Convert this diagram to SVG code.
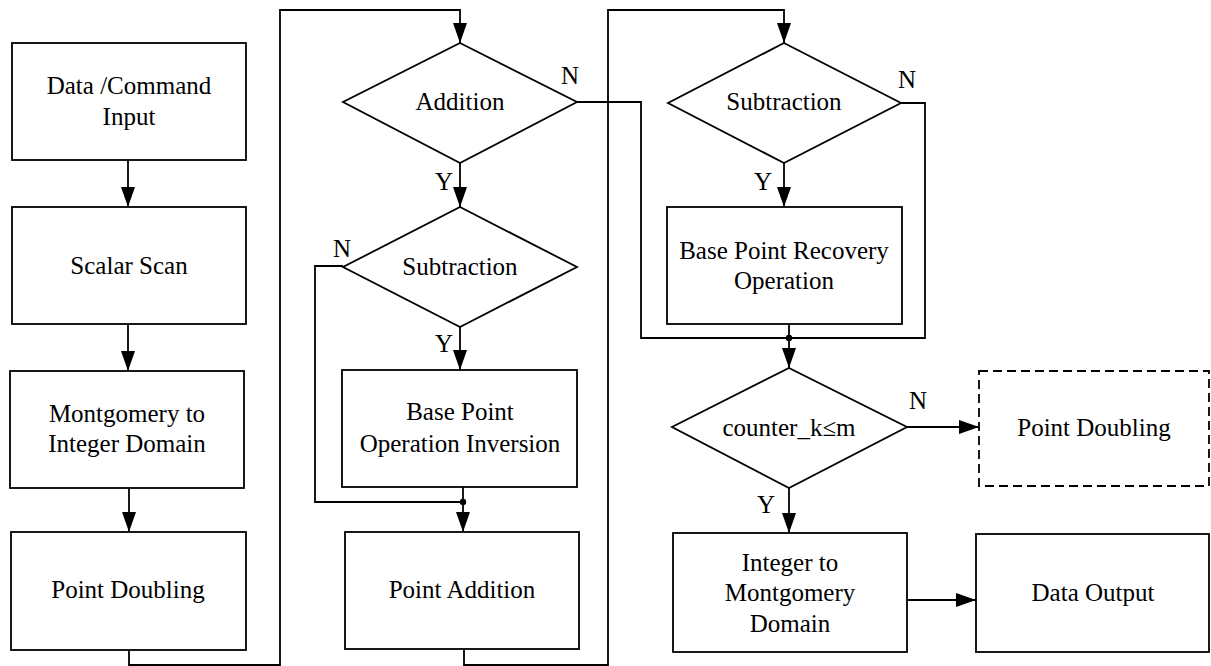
<svg xmlns="http://www.w3.org/2000/svg" width="1211" height="666" viewBox="0 0 1211 666" font-family="'Liberation Serif', 'DejaVu Serif', serif" font-size="25">
  <style>
    .box { fill: #fff; stroke: #000; stroke-width: 1.8; }
    .dash { fill: #fff; stroke: #000; stroke-width: 1.8; stroke-dasharray: 9 5; }
    .wire { fill: none; stroke: #000; stroke-width: 1.8; }
    .arrow { fill: none; stroke: #000; stroke-width: 1.8; marker-end: url(#head); }
    text { font-family: 'Liberation Serif', 'DejaVu Serif', serif; font-size: 25px; fill: #000; }
    .c { text-anchor: middle; }
  </style>
  <defs>
    <marker id="head" viewBox="0 0 20 14" refX="20" refY="7" markerWidth="20" markerHeight="14" markerUnits="userSpaceOnUse" orient="auto">
      <path d="M0,0 L20,7 L0,14 Z" fill="#000"/>
    </marker>
  </defs>

  <!-- connectors -->
  <g id="connectors">
    <line class="arrow" x1="128" y1="160" x2="128" y2="207"/>
    <line class="arrow" x1="128" y1="324" x2="128" y2="371"/>
    <line class="arrow" x1="129" y1="488" x2="129" y2="532"/>
    <polyline class="arrow" points="129,650 129,665 280,665 280,10 460,10 460,43"/>
    <line class="arrow" x1="460" y1="163" x2="460" y2="207"/>
    <line class="arrow" x1="460" y1="327" x2="460" y2="370"/>
    <polyline class="wire" points="343,266 315,266 315,502 463,502"/>
    <line class="wire" x1="463" y1="487" x2="463" y2="502"/>
    <line class="arrow" x1="463" y1="502" x2="463" y2="532"/>
    <circle cx="463" cy="502" r="3.2" fill="#000"/>
    <polyline class="arrow" points="464,649 464,665 608,665 608,10 784,10 784,43"/>
    <polyline class="wire" points="577,102 641,102 641,338 789,338"/>
    <polyline class="wire" points="901,103 925,103 925,338 789,338"/>
    <line class="arrow" x1="784" y1="163" x2="784" y2="207"/>
    <line class="wire" x1="789" y1="324" x2="789" y2="338"/>
    <line class="arrow" x1="789" y1="338" x2="789" y2="368"/>
    <circle cx="789" cy="338" r="3.2" fill="#000"/>
    <line class="arrow" x1="907" y1="427" x2="979" y2="427"/>
    <line class="arrow" x1="789" y1="488" x2="789" y2="533"/>
    <line class="arrow" x1="907" y1="600" x2="976" y2="600"/>
    <!-- branch labels -->
    <text x="561" y="84">N</text>
    <text x="435" y="190">Y</text>
    <text x="333" y="257">N</text>
    <text x="435" y="352">Y</text>
    <text x="898" y="88">N</text>
    <text x="754" y="190">Y</text>
    <text x="909" y="409">N</text>
    <text x="757" y="513">Y</text>
  </g>

  <!-- left column -->
  <g id="data-input">
    <rect class="box" x="12" y="43" width="234" height="117"/>
    <text class="c" x="129" y="94">Data /Command</text>
    <text class="c" x="129" y="125">Input</text>
  </g>
  <g id="scalar-scan">
    <rect class="box" x="12" y="207" width="234" height="117"/>
    <text class="c" x="129" y="274">Scalar Scan</text>
  </g>
  <g id="mont-to-int">
    <rect class="box" x="10" y="371" width="234" height="117"/>
    <text class="c" x="127" y="422">Montgomery to</text>
    <text class="c" x="127" y="452">Integer Domain</text>
  </g>
  <g id="point-doubling">
    <rect class="box" x="11" y="532" width="235" height="118"/>
    <text class="c" x="128" y="598">Point Doubling</text>
  </g>

  <!-- middle column -->
  <g id="addition-check">
    <polygon class="box" points="460,43 577,102 460,163 343,102"/>
    <text class="c" x="460" y="110">Addition</text>
  </g>
  <g id="subtraction-check-1">
    <polygon class="box" points="460,207 577,267 460,327 343,267"/>
    <text class="c" x="460" y="275">Subtraction</text>
  </g>
  <g id="base-point-inversion">
    <rect class="box" x="342" y="370" width="235" height="117"/>
    <text class="c" x="460" y="420">Base Point</text>
    <text class="c" x="460" y="452">Operation Inversion</text>
  </g>
  <g id="point-addition">
    <rect class="box" x="345" y="532" width="234" height="117"/>
    <text class="c" x="462" y="598">Point Addition</text>
  </g>

  <!-- right column -->
  <g id="subtraction-check-2">
    <polygon class="box" points="784,43 901,103 784,163 668,103"/>
    <text class="c" x="784" y="110">Subtraction</text>
  </g>
  <g id="base-point-recovery">
    <rect class="box" x="667" y="207" width="235" height="117"/>
    <text class="c" x="784" y="259">Base Point Recovery</text>
    <text class="c" x="784" y="289">Operation</text>
  </g>
  <g id="counter-check">
    <polygon class="box" points="789,368 907,427 789,488 672,427"/>
    <text class="c" x="789" y="436">counter_k≤m</text>
  </g>
  <g id="point-doubling-next">
    <rect class="dash" x="979" y="371" width="230" height="115"/>
    <text class="c" x="1094" y="436">Point Doubling</text>
  </g>
  <g id="int-to-mont">
    <rect class="box" x="673" y="533" width="234" height="119"/>
    <text class="c" x="790" y="571">Integer to</text>
    <text class="c" x="790" y="601">Montgomery</text>
    <text class="c" x="790" y="632">Domain</text>
  </g>
  <g id="data-output">
    <rect class="box" x="976" y="534" width="233" height="118"/>
    <text class="c" x="1093" y="601">Data Output</text>
  </g>
</svg>
